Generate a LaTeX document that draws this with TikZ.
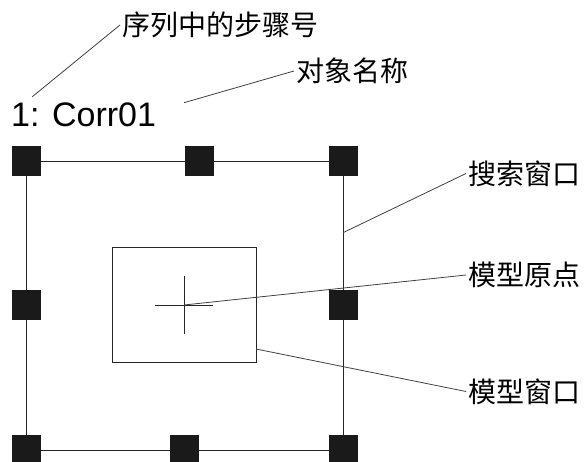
\documentclass[tikz,border=0pt]{standalone}
\usepackage{fontspec}
\setmainfont{Liberation Sans}
\newfontfamily\cjkfont{Noto Sans CJK SC}
\usetikzlibrary{backgrounds}
\begin{document}
\begin{tikzpicture}[x=1pt,y=-1pt,
  handle/.style={fill=hdlfill, draw=none, minimum width=29pt, minimum height=30pt, inner sep=0pt},
  frameline/.style={draw=black!85, line width=0.9pt},
  leader/.style={draw=black!75, line width=0.8pt},
  lbl/.style={font=\cjkfont\fontsize{28}{30}\selectfont, inner sep=2pt, anchor=west}]
\definecolor{hdlfill}{HTML}{1A1A1A}
\useasboundingbox (0,0) rectangle (587,462);
% handles of the search window
\node[handle] (htl) at (26,161) {};
\node[handle] (htm) at (199,161) {};
\node[handle] (htr) at (343,161) {};
\node[handle] (hml) at (26,305.5) {};
\node[handle] (hmr) at (343,305.5) {};
\node[handle] (hbl) at (26,450) {};
\node[handle] (hbm) at (184,450) {};
\node[handle] (hbr) at (343,450) {};
\begin{scope}[on background layer]
\draw[frameline] (htl.center) rectangle (hbr.center);
\end{scope}
% model window and origin
\node[frameline, minimum width=144pt, minimum height=115pt, inner sep=0pt] (mwin) at (184,305) {};
\coordinate (orig) at (184,305);
\draw[frameline, line width=0.8pt] ([xshift=-29pt]orig) -- ([xshift=29pt]orig);
\draw[frameline, line width=0.8pt] ([yshift=-29pt]orig) -- ([yshift=29pt]orig);
% labels
\node[font=\fontsize{34}{36}\selectfont, anchor=base west, inner sep=0pt] (name) at (11,127) {1: Corr01};
\node[lbl] (seqlbl) at (120,25) {序列中的步骤号};
\node[lbl] (objlbl) at (294,71) {对象名称};
\node[lbl] (srchlbl) at (466,173.5) {搜索窗口};
\node[lbl] (origlbl) at (466,275) {模型原点};
\node[lbl] (mwinlbl) at (466,391.5) {模型窗口};
% leaders
\coordinate (seqtip) at (32.3,96.7);
\coordinate (objtip) at (184,102.7);
\coordinate (srchtip) at (343,232.7);
\coordinate (mwintip) at (256,349);
\draw[leader] (seqtip) -- (seqlbl.west);
\draw[leader] (objtip) -- (objlbl.west);
\draw[leader] (srchtip) -- (srchlbl.west);
\draw[leader] (orig) -- (origlbl.west);
\draw[leader] (mwintip) -- (mwinlbl.west);
\end{tikzpicture}
\end{document}
